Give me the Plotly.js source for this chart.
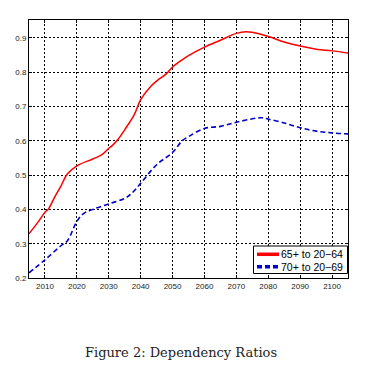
<!DOCTYPE html>
<html>
<head>
<meta charset="utf-8">
<script src="https://cdn.plot.ly/plotly-3.0.1.min.js"></script>
<style>html,body{margin:0;padding:0;background:#fff}#chart{width:374px;height:369px}</style>
</head>
<body>
<div id="chart"></div>
<script>
const redYears = [2005,2008,2010,2011,2013,2015,2017,2020,2025,2028,2030,2031,2033,2035,2038,2040,2043,2045,2048,2050,2053,2055,2060,2065,2070,2073,2075,2080,2085,2090,2095,2100,2105];
const redVals  = [0.329,0.365,0.392,0.400,0.435,0.468,0.503,0.527,0.547,0.560,0.578,0.585,0.605,0.632,0.676,0.720,0.757,0.774,0.795,0.815,0.836,0.848,0.873,0.893,0.913,0.918,0.916,0.904,0.888,0.876,0.867,0.862,0.856];
const blueYears = [2005,2010,2015,2017,2020,2022,2025,2030,2035,2037,2040,2045,2050,2053,2055,2060,2065,2070,2075,2078,2080,2085,2090,2095,2100,2105];
const blueVals  = [0.215,0.253,0.294,0.308,0.365,0.387,0.400,0.416,0.432,0.445,0.476,0.530,0.566,0.600,0.612,0.636,0.642,0.654,0.664,0.667,0.663,0.652,0.638,0.628,0.623,0.620];
const names = ['65+ to 20\u221264','70+ to 20\u221269'];
const xTicks = [2010,2020,2030,2040,2050,2060,2070,2080,2090,2100];
const yTicks = [0.2,0.3,0.4,0.5,0.6,0.7,0.8,0.9];
const colors = ['#ff0000','#0000cc'];

const data = [
  {x: redYears, y: redVals, mode:'lines', name:names[0], line:{color:colors[0], width:1.5, shape:'spline'}, showlegend:false, hoverinfo:'skip'},
  {x: blueYears, y: blueVals, mode:'lines', name:names[1], line:{color:colors[1], width:1.6, dash:'5px,3px', shape:'spline'}, showlegend:false, hoverinfo:'skip'}
];

const axisCommon = {
  showline:true, mirror:'ticks', linecolor:'#000', linewidth:1,
  showgrid:true, gridcolor:'#000', gridwidth:1, griddash:'2px,2px',
  zeroline:false, ticks:'inside', ticklen:3, tickcolor:'#000',
  tickfont:{family:'Liberation Sans, Arial, sans-serif', size:8, color:'#222'}
};

// hand-built legend box (MATLAB style, compact)
const lg = {x0:0.7038, x1:0.9984, y0:0.0174, y1:0.124, lx0:0.7147, lx1:0.7837, tx:0.7868, rows:[0.0919,0.0438]};
const shapes = [
  {type:'rect', xref:'paper', yref:'paper', x0:lg.x0, x1:lg.x1, y0:lg.y0, y1:lg.y1, fillcolor:'#fff', line:{color:'#000', width:1}, layer:'above'}
];
const annotations = [];
names.forEach((n,i)=>{
  shapes.push({type:'line', xref:'paper', yref:'paper', x0:lg.lx0, x1:lg.lx1, y0:lg.rows[i], y1:lg.rows[i],
               line:{color:colors[i], width:3.5, dash: i===1 ? '5px,3px' : 'solid'}, layer:'above'});
  annotations.push({text:n, xref:'paper', yref:'paper', x:lg.tx, y:lg.rows[i], xanchor:'left', yanchor:'middle',
                    showarrow:false, font:{family:'Liberation Sans, Arial, sans-serif', size:10.5, color:'#000'}, borderpad:0});
});
annotations.push({text:'Figure 2: Dependency Ratios', xref:'paper', yref:'paper', x:0.478, y:-0.2895,
                  xanchor:'center', yanchor:'middle', showarrow:false,
                  font:{family:'DejaVu Serif, Liberation Serif, serif', size:13, color:'#222'}});

const layout = {
  width:374, height:369,
  margin:{l:29, r:26, t:20, b:91, pad:0},
  paper_bgcolor:'#fff', plot_bgcolor:'#fff',
  xaxis: Object.assign({}, axisCommon, {range:[2005,2105], tickvals:xTicks, ticktext:xTicks.map(String)}),
  yaxis: Object.assign({}, axisCommon, {range:[0.2,0.952], tickvals:yTicks, ticktext:yTicks.map(v=>v.toFixed(1))}),
  showlegend:false,
  shapes: shapes,
  annotations: annotations
};

Plotly.newPlot('chart', data, layout, {staticPlot:true, displayModeBar:false});
</script>
</body>
</html>
